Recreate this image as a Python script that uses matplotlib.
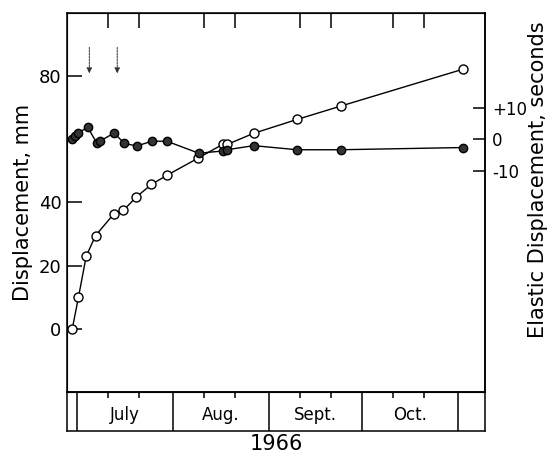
import matplotlib.pyplot as plt

# days counted from July 1, 1966 (July 1 = 0)
disp_days = [-1.5, 0.5, 3, 6, 12, 15, 19, 24, 29, 39, 47, 48.5, 57, 71, 85, 124.5]
disp_mm = [0, 10, 23, 29.5, 36.5, 37.5, 41.6, 45.7, 48.6, 54, 58.4, 58.4,
           61.9, 66.3, 70.5, 82.2]

elastic_days = [-1.6, -0.6, 0.3, 3.5, 6.4, 7.4, 12, 15.3, 19.3, 24.2, 29,
                39.3, 47, 48.4, 57, 71, 85, 124.5]
elastic_s = [0, 1, 2, 3.8, -1.2, -0.6, 2, -1.3, -2.1, -0.6, -0.6, -4.4,
             -3.7, -3.3, -2, -3.3, -3.3, -2.6]

arrow_days = [4, 13]

month_names = ['July', 'Aug.', 'Sept.', 'Oct.']
month_starts = [0, 31, 62, 92, 123]

left_ticks = [0, 20, 40, 80]
right_ticks = [-10, 0, 10]
right_labels = ['-10', '0', '+10']

plt.rcParams['font.family'] = 'DejaVu Sans'
lw = 1.1

fig = plt.figure(figsize=(5.55, 4.59), dpi=100)
ax = fig.add_axes([0.1207, 0.146, 0.7532, 0.8257])
strip = fig.add_axes([0.1207, 0.061, 0.7532, 0.085], sharex=ax)

xmin, xmax = -3.2, 131.6
ax.set_xlim(xmin, xmax)
ax.set_ylim(-20, 100)

for s in ax.spines.values():
    s.set_linewidth(lw)

ax.plot(disp_days, disp_mm, '-o', color='black', lw=1.0, ms=6.5,
        mfc='white', mec='black', mew=1.0, zorder=3)

# top ticks at month boundaries
ax.set_xticks(month_starts)
ax.tick_params(axis='x', which='both', bottom=False, top=True,
               labelbottom=False, direction='in', length=11, width=lw)
ax.set_yticks(left_ticks)
ax.set_yticklabels([str(t) for t in left_ticks])
ax.tick_params(axis='y', direction='in', length=11, width=lw,
               labelsize=13, pad=4)
ax.set_ylabel('Displacement, mm', fontsize=15, labelpad=4)

for d in arrow_days:
    ax.annotate('', xy=(d, 80), xytext=(d, 90),
                arrowprops=dict(arrowstyle='-|>', color='#333333', lw=0.7,
                                mutation_scale=8, linestyle=(0, (2, 1))))

# elastic displacement on right axis
ax2 = ax.twinx()
ax2.set_ylim(-80, 40)
ax2.plot(elastic_days, elastic_s, '-o', color='black', lw=1.0, ms=6,
         mfc='#333333', mec='black', zorder=3)
ax2.set_yticks(right_ticks)
ax2.set_yticklabels(right_labels)
ax2.tick_params(axis='y', direction='in', length=9, width=lw,
                labelsize=12, pad=5)
ax2.spines['right'].set_linewidth(lw)
fig.text(538 / 555, 1 - 180 / 459, 'Elastic Displacement, seconds',
         rotation=90, ha='center', va='center', fontsize=15)

# month strip
strip.set_ylim(0, 1)
strip.set_yticks([])
for s in strip.spines.values():
    s.set_linewidth(lw)
for m in month_starts:
    strip.axvline(m, color='black', lw=lw)
minor = []
for m in month_starts[:-1]:
    minor += [m + 10, m + 20]
strip.set_xticks(minor)
strip.tick_params(axis='x', bottom=False, top=True, labelbottom=False,
                  direction='in', length=4, width=lw)
for i, name in enumerate(month_names):
    mid = (month_starts[i] + month_starts[i + 1]) / 2
    strip.text(mid, 0.42, name, ha='center', va='center', fontsize=12)
strip.set_xlabel('1966', fontsize=15, labelpad=2)

fig.savefig('out.png', dpi=100)
